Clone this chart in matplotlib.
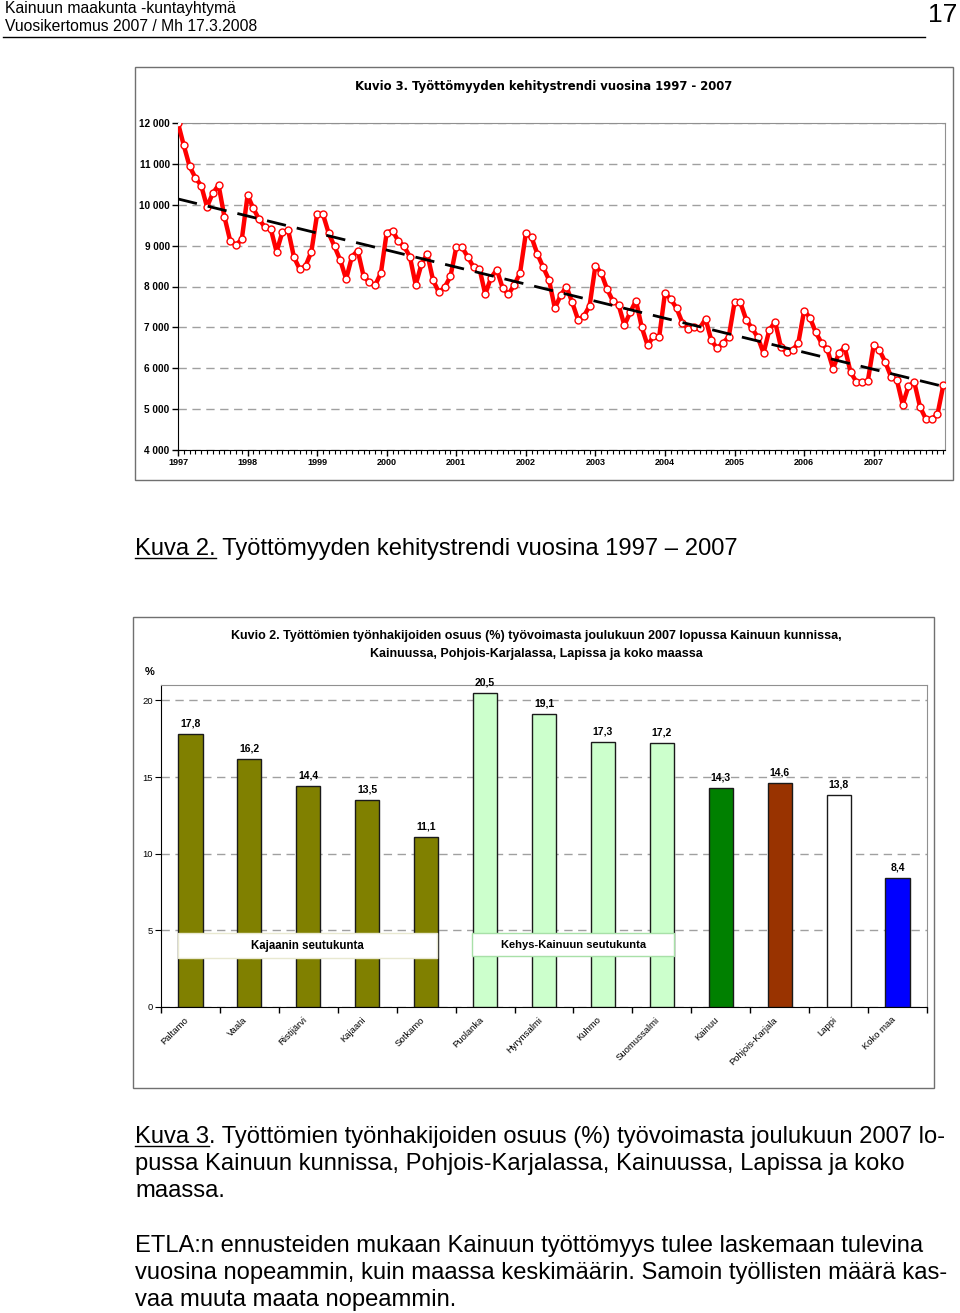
import numpy as np
import matplotlib.pyplot as plt
from matplotlib.patches import Rectangle
from matplotlib.lines import Line2D

plt.rcParams['font.family'] = ['Liberation Sans', 'DejaVu Sans']

W, H = 960, 1313

def box(l, t, r, b):
    return [l / W, 1 - b / H, (r - l) / W, (b - t) / H]

def fx(x):
    return x / W

def fy(y):
    return 1 - y / H

# --- data: unemployed job seekers in Kainuu, monthly Jan 1997 - Jan 2008 ---
vuodet = list(range(1997, 2008))
tyottomat = [
    12000, 11450, 10940, 10660, 10470, 9950, 10280, 10480, 9710, 9120, 9020, 9150,
    10230, 9910, 9640, 9450, 9410, 8850, 9330, 9380, 8720, 8420, 8500, 8850,
    9770, 9770, 9300, 8980, 8640, 8180, 8730, 8880, 8260, 8100, 8030, 8330,
    9320, 9370, 9110, 8980, 8730, 8040, 8550, 8800, 8150, 7860, 7980, 8250,
    8960, 8960, 8720, 8470, 8440, 7810, 8220, 8410, 7960, 7810, 8040, 8330,
    9300, 9200, 8790, 8470, 8160, 7470, 7780, 8000, 7610, 7190, 7270, 7530,
    8510, 8330, 7940, 7650, 7550, 7050, 7370, 7650, 7000, 6560, 6780, 6770,
    7840, 7690, 7470, 7110, 6970, 7000, 6980, 7210, 6680, 6490, 6620, 6770,
    7610, 7610, 7190, 6980, 6760, 6370, 6940, 7130, 6520, 6390, 6440, 6620,
    7410, 7240, 6880, 6620, 6460, 5990, 6370, 6510, 5910, 5670, 5670, 5700,
    6560, 6440, 6150, 5790, 5710, 5110, 5560, 5660, 5050, 4760, 4760, 4870,
    5580,
]

# --- data: share of unemployed (%) end of Dec 2007 ---
alueet = ['Paltamo', 'Vaala', 'Ristijärvi', 'Kajaani', 'Sotkamo', 'Puolanka',
          'Hyrynsalmi', 'Kuhmo', 'Suomussalmi', 'Kainuu', 'Pohjois-Karjala',
          'Lappi', 'Koko maa']
osuus = [17.8, 16.2, 14.4, 13.5, 11.1, 20.5, 19.1, 17.3, 17.2, 14.3, 14.6, 13.8, 8.4]
varit = ['#808000'] * 5 + ['#CCFFCC'] * 4 + ['#008000', '#993300', '#FFFFFF', '#0000FF']

fig = plt.figure(figsize=(9.6, 13.13), dpi=100)

# page header
hdr = ['Liberation Sans Narrow', 'Liberation Sans', 'DejaVu Sans']
fig.text(fx(5), fy(13), 'Kainuun maakunta -kuntayhtymä', fontsize=11.3, family=hdr, va='baseline')
fig.text(fx(5), fy(31), 'Vuosikertomus 2007 / Mh 17.3.2008', fontsize=11.3, family=hdr, va='baseline')
fig.text(fx(957), fy(22), '17', fontsize=19, family=hdr, va='baseline', ha='right')
fig.add_artist(Line2D([fx(3), fx(925)], [fy(37), fy(37)], color='black', lw=1))

# ---------------- chart 1 ----------------
dv = ['DejaVu Sans']
fig.add_artist(Rectangle((fx(135), fy(480)), (953 - 135) / W, (480 - 67) / H,
                         fill=False, edgecolor='#707070', lw=1))
fig.text(fx(544), fy(90), 'Kuvio 3. Työttömyyden kehitystrendi vuosina 1997 - 2007',
         fontsize=8.4, fontweight='bold', family=dv, ha='center', va='baseline')

ax1 = fig.add_axes(box(178, 123, 945, 450))
kk = np.arange(len(tyottomat))
ax1.plot(kk, tyottomat, color='#FF0000', lw=3.2, marker='o', ms=5,
         mfc='white', mec='#FF0000', mew=1, zorder=3)
p = np.polyfit(kk, tyottomat, 1)
ax1.plot(kk, np.polyval(p, kk), color='black', lw=2, dashes=(7, 4), zorder=4)

ax1.set_xlim(0, 132.3)
ax1.set_ylim(4000, 12000)
ax1.set_yticks(range(4000, 12001, 1000))
ax1.set_yticklabels([f'{v:,}'.replace(',', ' ') for v in range(4000, 12001, 1000)],
                    fontsize=7.2, fontweight='bold')
ax1.set_xticks([12 * i for i in range(len(vuodet))])
ax1.set_xticklabels([str(v) for v in vuodet], fontsize=6.5, fontweight='bold')
ax1.set_xticks(range(0, 133), minor=True)
ax1.tick_params(axis='both', which='major', length=4, width=1, pad=2, direction='out')
ax1.tick_params(axis='x', which='minor', length=3, width=0.8, direction='out')
ax1.yaxis.grid(True, color='#A0A0A0', lw=1, dashes=(6, 4))
ax1.set_axisbelow(True)
for s in ['top', 'right']:
    ax1.spines[s].set_color('#909090')
for s in ['left', 'bottom']:
    ax1.spines[s].set_color('black')

# caption 2
r = fig.canvas.get_renderer()
cap = 17.1
t = fig.text(fx(135), fy(555), 'Kuva 2.', fontsize=cap, va='baseline')
bb = t.get_window_extent(r)
fig.add_artist(Line2D([bb.x0 / W, bb.x1 / W], [fy(558), fy(558)], color='black', lw=1))
fig.text(bb.x1 / W, fy(555), ' Työttömyyden kehitystrendi vuosina 1997 – 2007',
         fontsize=cap, va='baseline')

# ---------------- chart 2 ----------------
fig.add_artist(Rectangle((fx(133), fy(1088)), (934 - 133) / W, (1088 - 617) / H,
                         fill=False, edgecolor='#707070', lw=1))
fig.text(fx(536), fy(639), 'Kuvio 2. Työttömien työnhakijoiden osuus (%) työvoimasta '
         'joulukuun 2007 lopussa Kainuun kunnissa,', fontsize=9, fontweight='bold',
         ha='center', va='baseline')
fig.text(fx(536), fy(657), 'Kainuussa, Pohjois-Karjalassa, Lapissa ja koko maassa',
         fontsize=9, fontweight='bold', ha='center', va='baseline')
fig.text(fx(145), fy(675), '%', fontsize=8, fontweight='bold', va='baseline')

ax2 = fig.add_axes(box(161, 685, 927, 1007))
xx = np.arange(len(alueet))
bars = ax2.bar(xx, osuus, width=0.41, color=varit, edgecolor='#1a1a1a', lw=1, zorder=3)
ax2.bar_label(bars, labels=[f'{v:.1f}'.replace('.', ',') for v in osuus],
              padding=4, fontsize=7.5, fontweight='bold')
ax2.set_xlim(-0.5, len(alueet) - 0.5)
ax2.set_ylim(0, 21)
ax2.set_yticks([0, 5, 10, 15, 20])
ax2.tick_params(axis='y', labelsize=6.8, length=4, pad=2)
ax2.set_xticks(xx)
ax2.set_xticklabels(alueet, rotation=45, ha='right', fontsize=6.8)
ax2.tick_params(axis='x', which='major', length=0, pad=6)
ax2.set_xticks(np.arange(-0.5, len(alueet)), minor=True)
ax2.tick_params(axis='x', which='minor', length=4, width=1)
ax2.yaxis.grid(True, color='#A0A0A0', lw=1, dashes=(6, 4), zorder=0)
ax2.set_axisbelow(True)
for s in ['top', 'right']:
    ax2.spines[s].set_color('#909090')

# group label boxes
ax2.add_patch(Rectangle((-0.21, 3.2), 4.4, 1.6, facecolor='white',
                        edgecolor='#E8E8D0', lw=1, zorder=4))
ax2.text(1.99, 4.0, 'Kajaanin seutukunta', fontsize=8.3, fontweight='bold',
         ha='center', va='center', zorder=5)
ax2.add_patch(Rectangle((4.78, 3.3), 3.43, 1.55, facecolor='white',
                        edgecolor='#A8E0A8', lw=1, zorder=4))
ax2.text(6.5, 4.05, 'Kehys-Kainuun seutukunta', fontsize=8, fontweight='bold',
         ha='center', va='center', zorder=5)

# caption 3 and paragraph
t = fig.text(fx(135), fy(1143), 'Kuva 3', fontsize=cap, va='baseline')
bb = t.get_window_extent(r)
fig.add_artist(Line2D([bb.x0 / W, bb.x1 / W], [fy(1146), fy(1146)], color='black', lw=1))
fig.text(bb.x1 / W, fy(1143), '. Työttömien työnhakijoiden osuus (%) työvoimasta joulukuun 2007 lo-',
         fontsize=cap, va='baseline')
rivit = ['pussa Kainuun kunnissa, Pohjois-Karjalassa, Kainuussa, Lapissa ja koko',
         'maassa.']
for i, s in enumerate(rivit):
    fig.text(fx(135), fy(1170 + 27 * i), s, fontsize=cap, va='baseline')
kpl = ['ETLA:n ennusteiden mukaan Kainuun työttömyys tulee laskemaan tulevina',
       'vuosina nopeammin, kuin maassa keskimäärin. Samoin työllisten määrä kas-',
       'vaa muuta maata nopeammin.']
for i, s in enumerate(kpl):
    fig.text(fx(135), fy(1252 + 27 * i), s, fontsize=cap, va='baseline')

fig.savefig('out.png', dpi=100)
